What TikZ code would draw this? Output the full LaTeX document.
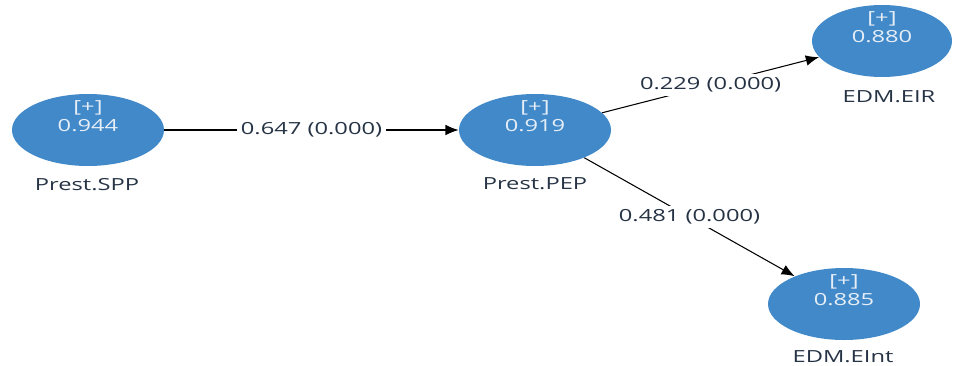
\documentclass[tikz,border=0pt]{standalone}
\usepackage{fontspec}
\setmainfont{Open Sans}
\newfontfamily\plsfont[FakeStretch=1.42]{Open Sans}
\usetikzlibrary{shapes.geometric,arrows.meta}
\definecolor{lvblue}{HTML}{4189C8}
\definecolor{lvtext}{HTML}{E6EEF7}
\definecolor{nametext}{HTML}{263345}
\tikzset{
  latent/.style={ellipse,fill=lvblue,draw=none,minimum width=152*0.02cm,minimum height=72*0.02cm,inner sep=0pt},
  lvval/.style={font=\plsfont\fontsize{9.5}{10}\selectfont,text=lvtext,inner sep=0pt},
  lvname/.style={font=\plsfont\fontsize{9.5}{10}\selectfont,text=nametext,inner sep=0pt},
  coef/.style={font=\plsfont\fontsize{9.5}{10}\selectfont,text=nametext,fill=white,inner sep=2pt},
  path/.style={-{Latex[length=7.5pt,width=6pt]},line width=0.6pt}
}
\begin{document}
\begin{tikzpicture}[x=0.02cm,y=-0.02cm]
        \useasboundingbox (0,0) rectangle (959,365);
        % latent variables
        \node[latent] (spp) at (88,130) {};
        \node[latent] (pep) at (535,130) {};
        \node[latent,minimum width=140*0.02cm] (eir) at (882,41) {};
        \node[latent] (eint) at (844,304) {};
        \foreach \lv/\r in {spp/0.944,pep/0.919,eir/0.880,eint/0.885} {
            \node[lvval] (\lv-plus) at ([yshift=22*0.02cm]\lv.center) {[+]};
            \node[lvval] (\lv-r) at ([yshift=4*0.02cm]\lv.center) {\r};
        }
        \node[lvname] (spp-name) at (87,185) {Prest.SPP};
        \node[lvname] (pep-name) at (535,184) {Prest.PEP};
        \node[lvname] (eir-name) at (889,97) {EDM.EIR};
        \node[lvname] (eint-name) at (843,357) {EDM.EInt};
        % paths
        \draw[path] (spp) -- node[coef] {0.647 (0.000)} (pep);
        \draw[path] (pep) -- node[coef] {0.229 (0.000)} (eir);
        \draw[path] (pep) -- node[coef] {0.481 (0.000)} (eint);
    \end{tikzpicture}
\end{document}
